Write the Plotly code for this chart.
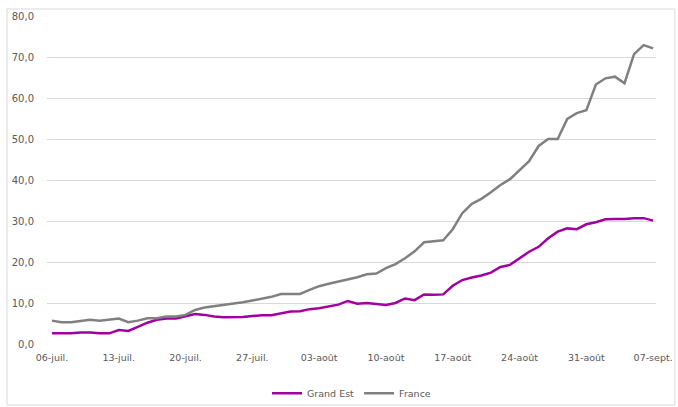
import plotly.graph_objects as go
import datetime as dt

# Categories: daily dates 06-juil. .. 07-sept.
mois = {7: "juil.", 8: "août", 9: "sept."}
start = dt.date(2020, 7, 6)
dates = [start + dt.timedelta(days=i) for i in range(64)]
categories = [f"{d.day:02d}-{mois[d.month]}" for d in dates]

grand_est = [2.6, 2.6, 2.6, 2.8, 2.8, 2.6, 2.6, 3.4, 3.2, 4.2,
             5.2, 5.9, 6.2, 6.2, 6.7, 7.3, 7.1, 6.7, 6.5, 6.5,
             6.6, 6.8, 7.0, 7.0, 7.5, 7.9, 8.0, 8.5, 8.7, 9.1,
             9.6, 10.5, 9.8, 10.0, 9.8, 9.5, 10.0, 11.1, 10.7, 12.1,
             12.0, 12.1, 14.2, 15.6, 16.2, 16.7, 17.4, 18.8, 19.3, 20.9,
             22.5, 23.7, 25.8, 27.4, 28.2, 28.0, 29.2, 29.7, 30.4, 30.5,
             30.5, 30.7, 30.7, 30.1]

france = [5.7, 5.3, 5.3, 5.6, 5.9, 5.7, 5.9, 6.2, 5.3, 5.7,
          6.3, 6.3, 6.7, 6.7, 7.1, 8.3, 8.9, 9.2, 9.5, 9.8,
          10.2, 10.6, 11.0, 11.5, 12.2, 12.2, 12.2, 13.2, 14.1, 14.7,
          15.2, 15.7, 16.3, 17.0, 17.2, 18.5, 19.5, 20.9, 22.6, 24.8,
          25.0, 25.3, 28.0, 31.9, 34.2, 35.4, 37.0, 38.8, 40.2, 42.4,
          44.6, 48.3, 50.0, 50.0, 54.9, 56.3, 57.0, 63.3, 64.8, 65.2,
          63.6, 70.7, 72.9, 72.1]

tick_labels = categories[::7]
y_ticks = [0, 10, 20, 30, 40, 50, 60, 70, 80]

text_color = "#595959"
font_family = "DejaVu Sans"

fig = go.Figure()
fig.add_trace(go.Scatter(x=categories, y=grand_est, mode="lines", name="Grand Est",
                         line=dict(color="#A000A0", width=2.5)))
fig.add_trace(go.Scatter(x=categories, y=france, mode="lines", name="France",
                         line=dict(color="#808080", width=2.5)))

fig.update_layout(
    width=678, height=407,
    margin=dict(l=47, r=22, t=16, b=63, autoexpand=False),
    paper_bgcolor="white", plot_bgcolor="white",
    separators=", ",
    font=dict(family=font_family, size=9.5, color=text_color),
    showlegend=True,
    legend=dict(orientation="h", x=0.5, xanchor="center", y=-0.15, yanchor="middle",
                font=dict(size=9.5, color=text_color), itemwidth=30,
                bgcolor="rgba(0,0,0,0)"),
    xaxis=dict(type="category", range=[-0.52, 63.3], tickmode="array",
               tickvals=tick_labels, ticktext=tick_labels, showgrid=False,
               showline=False, zeroline=False, ticks="", tickangle=0,
               automargin=False, ticklabelstandoff=6,
               tickfont=dict(size=9.5, color=text_color)),
    yaxis=dict(range=[0, 80], tickvals=y_ticks, tickformat=".1f",
               showgrid=True, gridcolor="#D9D9D9", gridwidth=1,
               zeroline=False, showline=False, ticks="",
               ticklabelstandoff=12, automargin=False,
               tickfont=dict(size=10, color=text_color)),
    shapes=[dict(type="rect", xref="paper", yref="paper",
                 x0=-0.0657, x1=1.031, y0=-0.186, y1=1.0213,
                 line=dict(color="#D9D9D9", width=1), fillcolor="rgba(0,0,0,0)",
                 layer="below")],
)

fig.write_html("out.html",
               config={"displayModeBar": False},
               post_script="document.body.style.margin='0';document.body.style.overflow='hidden';")
